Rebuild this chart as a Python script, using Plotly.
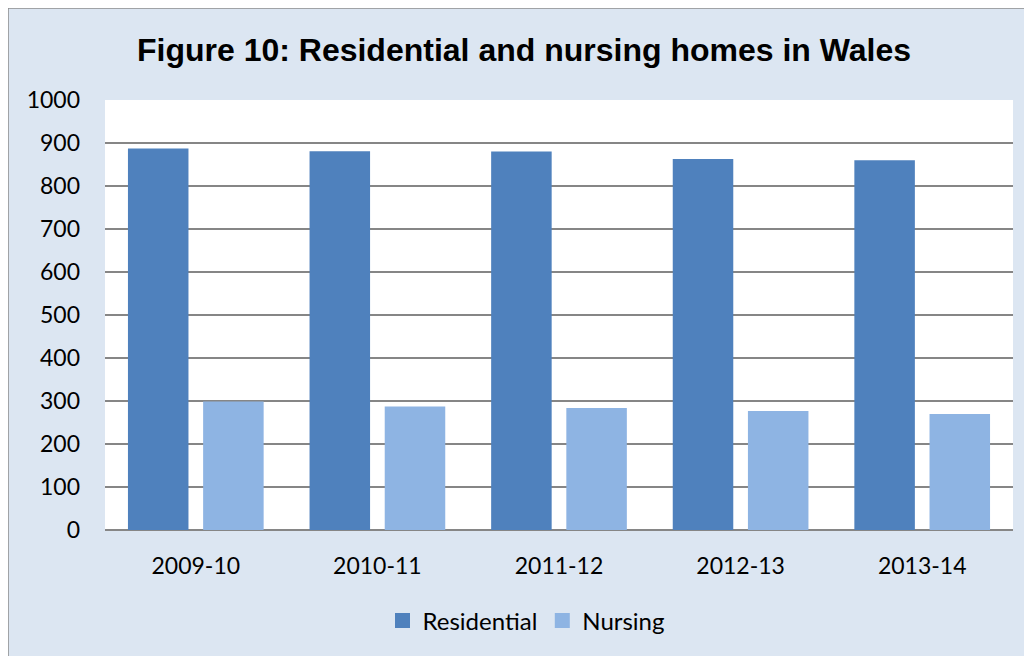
import plotly.graph_objects as go

categories = ["2009-10", "2010-11", "2011-12", "2012-13", "2013-14"]
residential = [887, 881, 880, 863, 860]
nursing = [299, 287, 284, 277, 270]
y_ticks = [0, 100, 200, 300, 400, 500, 600, 700, 800, 900, 1000]
series_names = ["Residential", "Nursing"]
series_colors = ["#4F81BD", "#8EB4E3"]

W, H = 1032, 656
OFF = 8  # page body margin offset
L, R, T, B = 97, 27, 92, 134
pw, ph = W - L - R, H - T - B

def px_x(p):
    return (p - OFF - L) / pw

def px_y(p):
    return (H - B - (p - OFF)) / ph

fig = go.Figure()
for name, vals, col in zip(series_names, [residential, nursing], series_colors):
    fig.add_trace(go.Bar(name=name, x=categories, y=vals, showlegend=False,
                         marker=dict(color=col, line=dict(width=0))))
# legend entries with larger square swatches
for name, col in zip(series_names, series_colors):
    fig.add_trace(go.Scatter(name=name, x=[None], y=[None], mode="markers",
                             marker=dict(symbol="square", size=15, color=col),
                             showlegend=True, hoverinfo="skip"))

font = "Lato, Carlito, Calibri, sans-serif"

fig.update_layout(
    width=W, height=H,
    margin=dict(l=L, r=R, t=T, b=B, pad=0),
    paper_bgcolor="#DCE6F2",
    plot_bgcolor="white",
    barmode="group",
    bargap=0.172,
    bargroupgap=0.195,
    title=dict(text="<b>Figure 10: Residential and nursing homes in Wales</b>",
               x=(524 - OFF) / W, xanchor="center", y=1 - (50 - OFF) / H, yanchor="middle",
               font=dict(family="Liberation Sans, Arial, sans-serif", size=32, color="black")),
    legend=dict(orientation="h", x=px_x(526), xanchor="center",
                y=px_y(621), yanchor="middle",
                font=dict(family=font, size=24, color="black"),
                bgcolor="rgba(0,0,0,0)", itemwidth=30, traceorder="normal"),
    xaxis=dict(type="category", showgrid=False, showline=False, ticks="",
               tickfont=dict(family=font, size=23, color="black"),
               ticklabelstandoff=20),
    yaxis=dict(range=[0, 1000], tickvals=y_ticks, showgrid=True,
               gridcolor="#868686", gridwidth=1.5,
               zeroline=True, zerolinecolor="#868686", zerolinewidth=1.5,
               showline=False, ticks="",
               tickfont=dict(family=font, size=23, color="black"),
               ticklabelstandoff=24),
    shapes=[
        dict(type="line", xref="paper", yref="paper", layer="above",
             x0=px_x(8), x1=px_x(8), y0=px_y(8), y1=px_y(700),
             line=dict(color="#8C8C8C", width=1.5)),
        dict(type="line", xref="paper", yref="paper", layer="above",
             x0=px_x(8), x1=px_x(1100), y0=px_y(8), y1=px_y(8),
             line=dict(color="#8C8C8C", width=1.5)),
    ],
)

fig.write_html("out.html")
